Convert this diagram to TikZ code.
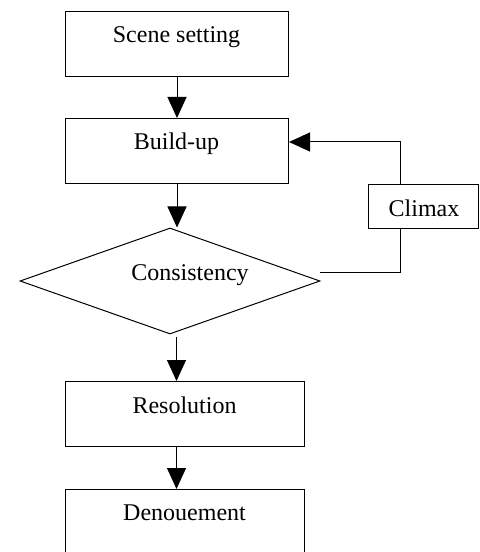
\documentclass[tikz,border=0pt]{standalone}
\usepackage{fontspec}
\setmainfont{Liberation Serif}
\usetikzlibrary{arrows.meta,shapes.geometric}
\tikzset{
  box/.style={draw, line width=1bp, inner sep=0pt, minimum width=#1, minimum height=65bp, anchor=north west},
  txt/.style={font=\fontsize{24bp}{28bp}\selectfont, inner sep=0pt, anchor=center},
  conn/.style={line width=1bp},
  arr/.style={line width=1bp, -{Triangle[length=21bp,width=19bp]}}
}
\begin{document}
\begin{tikzpicture}[x=1bp,y=-1bp]
\useasboundingbox (0,0) rectangle (480,552);
\clip (0,0) rectangle (480,552);
% boxes
\node[box=223bp] (scene) at (65,11) {};
\node[box=223bp] (build) at (65,118) {};
\node[box=239bp] (res) at (65,381) {};
\node[box=239bp, minimum height=90bp] (den) at (65,489) {};
\node[draw, line width=1bp, inner sep=0pt, minimum width=110bp, minimum height=43bp] (climax) at (423,206.5) {};
\node[diamond, draw, line width=1bp, inner sep=0pt, minimum width=300bp, minimum height=106bp] (diam) at (170,281) {};
% texts
\node[txt] (tscene) at (176.5,37) {Scene setting};
\node[txt] (tbuild) at (176.5,144) {Build-up};
\node[txt] (tdiam) at (190,275) {Consistency};
\node[txt] (tres) at (184.5,405) {Resolution};
\node[txt] (tden) at (184.5,513) {Denouement};
\node[txt] (tclimax) at (424,208) {Climax};
% connectors
\coordinate (dstart) at (320,272);
\coordinate (dbot) at (176.5,337);
\coordinate (turn) at (400,142);
\draw[arr] (scene.south) -- (build.north);
\draw[arr] (build.south) -- (build.south |- diam.north);
\draw[arr] (dbot) -- (dbot |- res.north);
\draw[arr] (dbot |- res.south) -- (dbot |- den.north);
\draw[conn] (dstart) -- (dstart -| turn) -- (turn |- climax.south);
\draw[arr] (turn |- climax.north) -- (turn) -- (turn -| build.east);
\end{tikzpicture}
\end{document}
